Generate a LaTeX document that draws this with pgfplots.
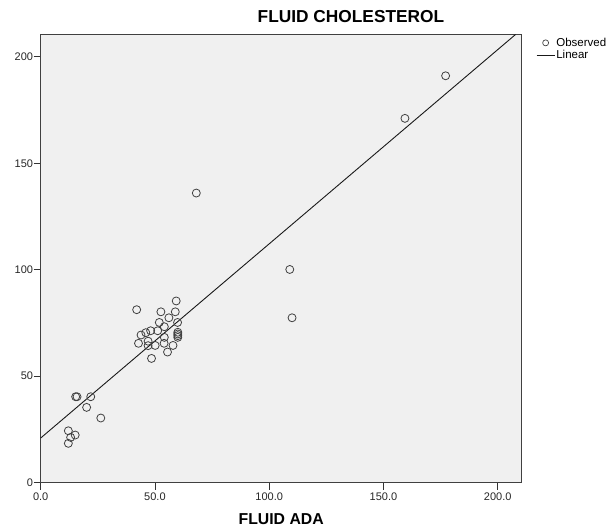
\documentclass[border=0pt]{standalone}
\usepackage{pgfplots}
\pgfplotsset{compat=1.18}
\usepackage{fontspec}
\setmainfont{Liberation Sans}
\definecolor{plotbg}{RGB}{240,240,240}
\begin{document}
\begin{tikzpicture}[x=1pt,y=1pt]
\path[use as bounding box] (-40.7,-45.5) rectangle (569.3,482.5);
\begin{axis}[
  at={(0,0)}, anchor=south west,
  scale only axis, width=481pt, height=448pt,
  xmin=0, xmax=210.5, ymin=0, ymax=210.5,
  axis background/.style={fill=plotbg},
  axis line style={black!75, line width=0.9pt},
  xtick={0,50,100,150,200},
  xticklabels={0.0,50.0,100.0,150.0,200.0},
  ytick={0,50,100,150,200},
  yticklabels={0,50,100,150,200},
  xtick pos=bottom, ytick pos=left,
  tick align=outside,
  major tick length=7pt,
  tick style={black!80, line width=0.9pt},
  ticklabel style={font=\fontsize{11}{12}\selectfont, text=black!85},
  yticklabel style={inner sep=0.5pt},
  xticklabel style={inner sep=1pt, yshift=-2pt},
  title={FLUID CHOLESTEROL},
  title style={at={(0.645,1)}, anchor=base, yshift=6pt, font=\bfseries\fontsize{17.3}{19}\selectfont},
  xlabel={FLUID ADA},
  xlabel style={at={(0.5,0)}, anchor=base, yshift=-42pt, font=\bfseries\fontsize{15.8}{18}\selectfont},
  legend style={draw=none, fill=none, inner sep=0pt, outer sep=0pt,
    at={(1.03,0.995)}, anchor=north west,
    font=\fontsize{11.5}{12}\selectfont, row sep=0pt,
    nodes={inner sep=1.2pt}},
  legend cell align=left,
]
\addplot[only marks, mark=o, mark size=4pt, black!75, mark options={line width=0.8pt},
  legend image code/.code={\draw[black!75, line width=0.7pt] (9pt,0pt) circle (3pt);}]
  table {
x y
177.2 191.1
159.4 171.1
109.0 100.1
110.0 77.4
68.1 136.0
42.0 81.2
59.3 85.3
52.6 80.2
58.9 80.2
56.1 77.4
59.9 75.2
51.9 75.2
54.1 73.2
48.1 71.3
51.2 71.3
46.0 70.4
43.9 69.3
54.1 68.2
47.0 66.4
42.8 65.4
54.0 65.4
47.0 64.3
50.1 64.4
57.9 64.4
55.5 61.3
48.5 58.3
60.0 70.6
60.0 69.8
60.0 69.0
60.0 68.2
15.3 40.3
15.9 40.3
21.9 40.3
20.1 35.3
26.3 30.3
12.1 24.3
13.1 21.2
15.1 22.3
12.1 18.4
};
\addlegendentry{Observed}
\addplot[black!90, line width=0.9pt,
  legend image code/.code={\draw[black!90, line width=1pt] (0pt,0pt) -- (18pt,0pt);}]
  coordinates {(0,20.9) (207.8,210.5)};
\addlegendentry{Linear}
\end{axis}
\end{tikzpicture}
\end{document}
